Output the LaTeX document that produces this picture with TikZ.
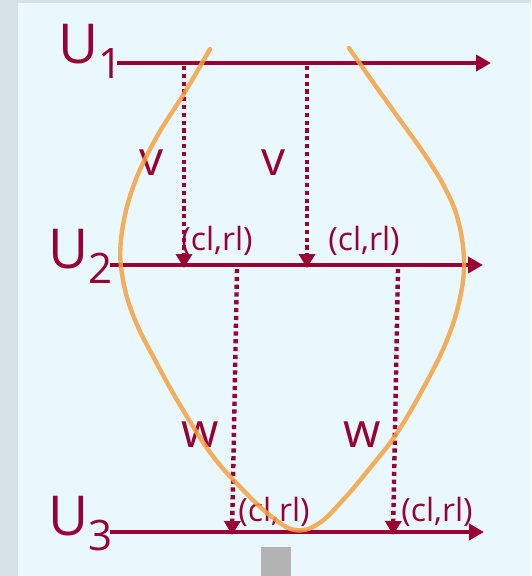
\documentclass[tikz,border=0pt]{standalone}
\usepackage{fontspec}
\setmainfont{Open Sans}
\usetikzlibrary{arrows.meta}
\definecolor{cgranate}{HTML}{990033}
\definecolor{cfondo}{HTML}{E8F8FD}
\definecolor{cmarco}{HTML}{D5E1E7}
\definecolor{cnaranja}{HTML}{F5A040}
\definecolor{cgris}{HTML}{B3B3B3}
\tikzset{
  eje/.style={draw=cgranate,line width=4.8pt,-{Triangle[length=15pt,width=16pt]}},
  punteada/.style={draw=cgranate,line width=4.4pt,dash pattern=on 4.2pt off 3.6pt,
                   -{Triangle[length=14pt,width=16pt]}},
  nivel/.style={text=cgranate,inner sep=0pt,anchor=base west},
  et/.style={text=cgranate,inner sep=0pt,anchor=base,font=\fontsize{32}{32}\selectfont},
  letra/.style={text=cgranate,inner sep=0pt,anchor=base,font=\fontsize{48}{48}\selectfont},
  lazo/.style={draw=cnaranja,line width=4.4pt,opacity=0.85,line cap=round,line join=round},
}
\newcommand{\nivelU}[1]{\fontsize{55}{55}\selectfont U\raisebox{-15pt}{\fontsize{42}{42}\selectfont #1}}

\begin{document}
\begin{tikzpicture}[x=1pt,y=-1pt]

\useasboundingbox (0,0) rectangle (531,576);
\fill[cmarco] (0,0) rectangle (531,576);
\fill[cfondo] (18,3) rectangle (531,576);
\fill[cgris] (261,547) rectangle (291,576);

\node[nivel] (u1) at (58,63)  {\nivelU{1}};
\node[nivel] (u2) at (48,268) {\nivelU{2}};
\node[nivel] (u3) at (48,535) {\nivelU{3}};

\coordinate (u1a) at (117,63);  \coordinate (u1b) at (491,63);
\coordinate (u2a) at (110,265); \coordinate (u2b) at (483,265);
\coordinate (u3a) at (110,532); \coordinate (u3b) at (484,532);

\coordinate (v1a) at (184,66);  \coordinate (v1b) at (184,268);
\coordinate (v2a) at (307,66);  \coordinate (v2b) at (307,268);
\coordinate (w1a) at (237,269); \coordinate (w1b) at (232,535);
\coordinate (w2a) at (398,269); \coordinate (w2b) at (393,535);

\draw[eje] (u1a) -- (u1b);
\draw[eje] (u2a) -- (u2b);
\draw[eje] (u3a) -- (u3b);

\draw[punteada] (v1a) -- (v1b);
\draw[punteada] (v2a) -- (v2b);
\draw[punteada] (w1a) -- (w1b);
\draw[punteada] (w2a) -- (w2b);

\node[letra] (lv1) at (152,175) {v};
\node[letra] (lv2) at (274,175) {v};
\node[letra] (lw1) at (200,447) {w};
\node[letra] (lw2) at (362,447) {w};

\node[et] (c1) at (217,250) {(cl,rl)};
\node[et] (c2) at (364,250) {(cl,rl)};
\node[et] (c3) at (274,521) {(cl,rl)};
\node[et] (c4) at (437,521) {(cl,rl)};

% trazo a mano alzada, encima de todo
\draw[lazo] plot[smooth,tension=0.65] coordinates {
  (210,49) (185,92) (155,140) (132,190) (121,240) (123,280) (135,320)
  (155,360) (180,405) (212,455) (245,492) (272,517) (295,530) (318,524)
  (343,500) (370,468) (397,433) (425,385) (447,340) (460,298) (464,260)
  (458,220) (445,188) (425,155) (400,120) (375,85) (349,48)};

\end{tikzpicture}
\end{document}
